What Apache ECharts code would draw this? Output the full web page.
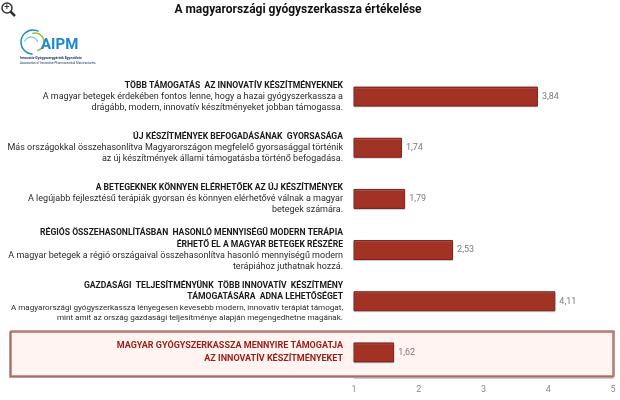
<!DOCTYPE html>
<html>
<head>
<meta charset="utf-8">
<script src="https://cdn.jsdelivr.net/npm/echarts@6/dist/echarts.min.js"></script>
<style>
  html, body { margin: 0; padding: 0; background: #fff; }
  #chart { width: 620px; height: 400px; }
</style>
</head>
<body>
<div id="chart"></div>
<script>
// headings (bold lines) per category
const headings = [
  ['TÖBB TÁMOGATÁS  AZ INNOVATÍV KÉSZÍTMÉNYEKNEK'],
  ['ÚJ KÉSZÍTMÉNYEK BEFOGADÁSÁNAK  GYORSASÁGA'],
  ['A BETEGEKNEK KÖNNYEN ELÉRHETŐEK AZ ÚJ KÉSZÍTMÉNYEK'],
  ['RÉGIÓS ÖSSZEHASONLÍTÁSBAN  HASONLÓ MENNYISÉGŰ MODERN TERÁPIA', 'ÉRHETŐ EL A MAGYAR BETEGEK RÉSZÉRE'],
  ['GAZDASÁGI  TELJESÍTMÉNYÜNK  TÖBB INNOVATÍV  KÉSZÍTMÉNY', 'TÁMOGATÁSÁRA  ADNA LEHETŐSÉGET'],
  ['MAGYAR GYÓGYSZERKASSZA MENNYIRE TÁMOGATJA', 'AZ INNOVATÍV KÉSZÍTMÉNYEKET']
]
const descriptions = [
  ['A magyar betegek érdekében fontos lenne, hogy a hazai gyógyszerkassza a', 'drágább, modern, innovatív készítményeket jobban támogassa.'],
  ['Más országokkal összehasonlítva Magyarországon megfelelő gyorsasággal történik', 'az új készítmények állami támogatásba történő befogadása.'],
  ['A legújabb fejlesztésű terápiák gyorsan és könnyen elérhetővé válnak a magyar', 'betegek számára.'],
  ['A magyar betegek a régió országaival összehasonlítva hasonló mennyiségű modern', 'terápiához juthatnak hozzá.'],
  ['A magyarországi gyógyszerkassza lényegesen kevesebb modern, innovatív terápiát támogat,', 'mint amit az ország gazdasági teljesítménye alapján megengedhetne magának.'],
  []
]
const scores = [3.84, 1.74, 1.79, 2.53, 4.11, 1.62]
const highlightIndex = 5
const condensedIndex = 4
const xTicks = [1, 2, 3, 4, 5]

const categories = headings.map((h, i) => 'c' + i)

const chart = echarts.init(document.getElementById('chart'))

function labelText(value) {
  const i = Number(value.slice(1))
  const hStyle = i === highlightIndex ? 'r' : 'h'
  const dStyle = i === condensedIndex ? 'dc' : 'd'
  const lines = headings[i].map(t => '{' + hStyle + '|' + t + '}')
  descriptions[i].forEach(t => lines.push('{' + dStyle + '|' + t + '}'))
  return lines.join('\n')
}

chart.setOption({
  animation: false,
  title: {
    text: 'A magyarországi gyógyszerkassza értékelése',
    left: 293,
    textAlign: 'center',
    top: -1,
    textStyle: {
      fontFamily: 'Roboto',
      fontSize: 12,
      fontWeight: 'bold',
      color: '#111'
    }
  },
  graphic: [
    // zoom icon
    { type: 'circle', shape: { cx: 7, cy: 8, r: 5 }, style: { fill: '#fff', stroke: '#333', lineWidth: 1.5 } },
    { type: 'line', shape: { x1: 10.5, y1: 11.5, x2: 15, y2: 16 }, style: { stroke: '#333', lineWidth: 2.5 } },
    { type: 'text', style: { text: '+', x: 7, y: 8, align: 'center', verticalAlign: 'middle', fontSize: 9, fontWeight: 'bold', fill: '#333' } },
    // logo
    { type: 'arc', shape: { cx: 33, cy: 42, r: 12, startAngle: 1.6, endAngle: 5.2 }, style: { stroke: '#1b8ad3', lineWidth: 1.5, fill: null } },
    { type: 'arc', shape: { cx: 35, cy: 42, r: 9, startAngle: 4.4, endAngle: 7.6 }, style: { stroke: '#9ac33c', lineWidth: 1.5, fill: null } },
    { type: 'arc', shape: { cx: 31, cy: 44, r: 7, startAngle: 3.5, endAngle: 6.0 }, style: { stroke: '#41b5e8', lineWidth: 1, fill: null } },
    { type: 'text', style: { text: 'AIPM', x: 41, y: 45, verticalAlign: 'middle', fontFamily: 'Roboto', fontSize: 15, fontWeight: 'bold', fill: '#1b8ad3' } },
    { type: 'text', style: { text: 'Innovatív Gyógyszergyártók Egyesülete', x: 20, y: 58, verticalAlign: 'middle', fontFamily: 'Roboto', fontSize: 3.5, fontWeight: 'bold', fill: '#1c3f73' } },
    { type: 'text', style: { text: 'Association of Innovative Pharmaceutical Manufacturers', x: 20, y: 63, verticalAlign: 'middle', fontFamily: 'Roboto', fontSize: 3, fill: '#1c3f73' } },
    // highlight box
    {
      type: 'rect',
      z: -1,
      shape: { x: 11, y: 331, width: 603, height: 45 },
      style: { fill: '#fff4f2', stroke: '#b27873', lineWidth: 1.5, shadowColor: 'rgba(110,30,25,0.6)', shadowOffsetX: -1, shadowOffsetY: 1, shadowBlur: 0 }
    }
  ],
  grid: {
    left: 354,
    right: 7,
    top: 71,
    bottom: 22,
    containLabel: false,
    outerBoundsMode: 'none'
  },
  xAxis: {
    type: 'value',
    min: xTicks[0],
    max: xTicks[xTicks.length - 1],
    interval: 1,
    splitLine: { show: false },
    axisLine: { show: true, lineStyle: { color: '#cfcfcf', width: 1 } },
    axisTick: { show: false },
    axisLabel: {
      color: '#888',
      fontFamily: 'Roboto',
      fontSize: 9,
      margin: 7
    }
  },
  yAxis: {
    type: 'category',
    inverse: true,
    data: categories,
    axisLine: { show: false },
    axisTick: { show: false },
    axisLabel: {
      margin: 11,
      align: 'right',
      formatter: labelText,
      rich: {
        h: { fontFamily: 'Roboto', fontSize: 8.6, fontWeight: 'bold', color: '#1a1a1a', lineHeight: 11.5, align: 'right' },
        r: { fontFamily: 'Roboto', fontSize: 9, fontWeight: 'bold', color: '#9b1c12', lineHeight: 13, align: 'right' },
        d: { fontFamily: 'Roboto', fontSize: 9, color: '#2a2a2a', lineHeight: 11, align: 'right' },
        dc: { fontFamily: 'Roboto', fontSize: 8.1, color: '#2a2a2a', lineHeight: 10, align: 'right' }
      }
    }
  },
  series: [{
    type: 'bar',
    data: scores,
    barWidth: 20,
    itemStyle: {
      color: '#a23224',
      borderColor: '#861a10',
      borderWidth: 1,
      shadowColor: 'rgba(120,170,200,0.35)',
      shadowOffsetY: 1
    },
    label: {
      show: true,
      position: 'right',
      distance: 4,
      fontFamily: 'Roboto',
      fontSize: 9,
      color: '#7a7a7a',
      formatter: p => p.value.toFixed(2).replace('.', ',')
    }
  }]
})
</script>
</body>
</html>
